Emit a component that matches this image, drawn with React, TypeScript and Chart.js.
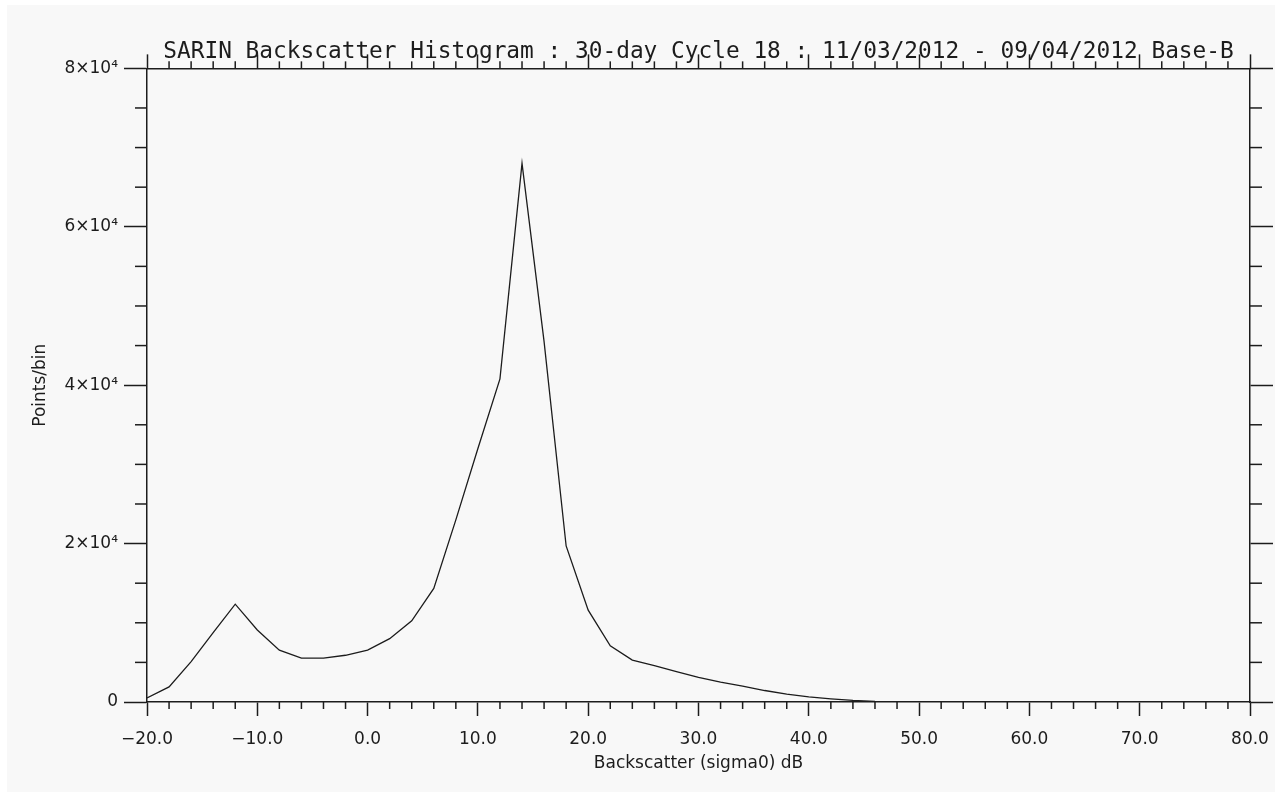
import { useEffect, useRef } from 'react';
import { Chart, registerables } from 'chart.js';

Chart.register(...registerables);

// ---------- data ----------
const TITLE = 'SARIN Backscatter Histogram : 30-day Cycle 18 : 11/03/2012 - 09/04/2012 Base-B';
const X_TITLE = 'Backscatter (sigma0) dB';
const Y_TITLE = 'Points/bin';

const binCentres = [
  -20, -18, -16, -14, -12, -10, -8, -6, -4, -2,
  0, 2, 4, 6, 8, 10, 12, 14, 16, 18,
  20, 22, 24, 26, 28, 30, 32, 34, 36, 38,
  40, 42, 44, 46,
];
const pointsPerBin = [
  500, 1900, 5100, 8750, 12350, 9100, 6550, 5550, 5550, 5900,
  6550, 8000, 10250, 14350, 23000, 32000, 40800, 68000, 45500, 19700,
  11600, 7100, 5300, 4600, 3850, 3100, 2500, 2000, 1450, 1000,
  650, 400, 200, 80,
];

const X_MIN = -20;
const X_MAX = 80;
const X_MINOR_STEP = 2;
const X_MAJOR_STEP = 10;
const Y_MIN = 0;
const Y_MAX = 80000;
const Y_MINOR_STEP = 5000;
const Y_MAJOR_STEP = 20000;

// ---------- style ----------
const INK = '#1c1c1c';
const AXIS_W = 1.5;
const X_MAJOR_LEN = 14;
const X_MINOR_LEN = 7;
const Y_MAJOR_LEN = 23;
const Y_MINOR_LEN = 12;
const LABEL_FONT = { family: 'DejaVu Sans', size: 17, weight: 'normal' as const, lineHeight: 1.2 };

const isMultiple = (v: number, step: number) => Math.abs(Math.round(v / step) * step - v) < 1e-6;

const xLabel = (v: number) => {
  if (!isMultiple(v, X_MAJOR_STEP)) return '';
  return v.toFixed(1).replace('-', '\u2212');
};
const yLabel = (v: number) => {
  if (!isMultiple(v, Y_MAJOR_STEP)) return '';
  if (v === 0) return '0';
  return `${Math.round(v / 10000)}\u00d710\u2074`;
};

// minor tick marks, placed through each scale's own getPixelForValue
const minorTicksPlugin = {
  id: 'minorTicks',
  afterDraw(chart: any) {
    const ctx = chart.ctx as CanvasRenderingContext2D;
    ctx.save();
    ctx.strokeStyle = INK;
    ctx.lineWidth = AXIS_W;
    Object.values(chart.scales).forEach((s: any) => {
      const horiz = s.isHorizontal();
      const major = horiz ? X_MAJOR_STEP : Y_MAJOR_STEP;
      const len = horiz ? X_MINOR_LEN : Y_MINOR_LEN;
      s.ticks.forEach((t: any) => {
        if (isMultiple(t.value, major)) return;
        const p = s.getPixelForValue(t.value);
        ctx.beginPath();
        if (s.position === 'bottom') {
          ctx.moveTo(p, s.top);
          ctx.lineTo(p, s.top + len);
        } else if (s.position === 'top') {
          ctx.moveTo(p, s.bottom);
          ctx.lineTo(p, s.bottom - len);
        } else if (s.position === 'left') {
          ctx.moveTo(s.right, p);
          ctx.lineTo(s.right - len, p);
        } else {
          ctx.moveTo(s.left, p);
          ctx.lineTo(s.left + len, p);
        }
        ctx.stroke();
      });
    });
    ctx.restore();
  },
};

const majorTickColor = (step: number) => (c: any) =>
  c.tick && isMultiple(c.tick.value, step) ? INK : 'rgba(0,0,0,0)';

export default function App() {
  const ref = useRef<HTMLCanvasElement | null>(null);

  useEffect(() => {
    if (!ref.current) return;
    const xBase = {
      type: 'linear' as const,
      min: X_MIN,
      max: X_MAX,
      border: { display: true, color: INK, width: AXIS_W },
      grid: {
        drawOnChartArea: false,
        drawTicks: true,
        tickLength: X_MAJOR_LEN,
        tickWidth: AXIS_W,
        tickColor: majorTickColor(X_MAJOR_STEP),
      },
    };
    const yBase = {
      type: 'linear' as const,
      min: Y_MIN,
      max: Y_MAX,
      border: { display: true, color: INK, width: AXIS_W },
      grid: {
        drawOnChartArea: false,
        drawTicks: true,
        tickLength: Y_MAJOR_LEN,
        tickWidth: AXIS_W,
        tickColor: majorTickColor(Y_MAJOR_STEP),
      },
    };

    const chart = new Chart(ref.current, {
      type: 'line',
      data: {
        datasets: [
          {
            data: binCentres.map((x, i) => ({ x, y: pointsPerBin[i] })),
            borderColor: INK,
            borderWidth: 1.3,
            pointRadius: 0,
            tension: 0,
            fill: false,
          },
        ],
      },
      options: {
        animation: false,
        responsive: false,
        events: [],
        layout: { padding: 0 },
        plugins: {
          legend: { display: false },
          tooltip: { enabled: false },
          title: {
            display: true,
            text: TITLE,
            fullSize: false,
            color: INK,
            font: { family: 'DejaVu Sans Mono', size: 22.8, weight: 'normal', lineHeight: 1.2 },
            padding: { top: 33, bottom: 1 },
          },
        },
        scales: {
          x: {
            ...xBase,
            position: 'bottom',
            afterFit: (s: any) => { s.height = 90; s.paddingLeft = 0; s.paddingRight = 0; },
            ticks: {
              stepSize: X_MINOR_STEP,
              autoSkip: false,
              maxRotation: 0,
              minRotation: 0,
              padding: 13,
              color: INK,
              font: LABEL_FONT,
              callback: (v: any) => xLabel(Number(v)),
            },
            title: {
              display: true,
              text: X_TITLE,
              color: INK,
              font: LABEL_FONT,
              padding: { top: 0, bottom: 18 },
            },
          },
          x2: {
            ...xBase,
            position: 'top',
            afterFit: (s: any) => { s.height = 2; s.paddingLeft = 0; s.paddingRight = 0; },
            ticks: { stepSize: X_MINOR_STEP, display: false, autoSkip: false },
          },
          y: {
            ...yBase,
            position: 'left',
            afterFit: (s: any) => { s.width = 140; },
            ticks: {
              stepSize: Y_MINOR_STEP,
              autoSkip: false,
              padding: 6,
              color: INK,
              font: LABEL_FONT,
              callback: (v: any) => yLabel(Number(v)),
            },
            title: {
              display: true,
              text: Y_TITLE,
              color: INK,
              font: LABEL_FONT,
              padding: { top: 23, bottom: 0 },
            },
          },
          y2: {
            ...yBase,
            position: 'right',
            afterFit: (s: any) => { s.width = 25; },
            ticks: { stepSize: Y_MINOR_STEP, display: false, autoSkip: false },
          },
        },
      } as any,
      plugins: [minorTicksPlugin],
    });
    return () => chart.destroy();
  }, []);

  return (
    <div
      style={{
        position: 'absolute',
        left: 7,
        top: 5,
        width: 1268,
        height: 787,
        background: '#f8f8f8',
        overflow: 'hidden',
      }}
    >
      <canvas ref={ref} width={1268} height={787} style={{ width: 1268, height: 787, display: 'block' }} />
    </div>
  );
}
